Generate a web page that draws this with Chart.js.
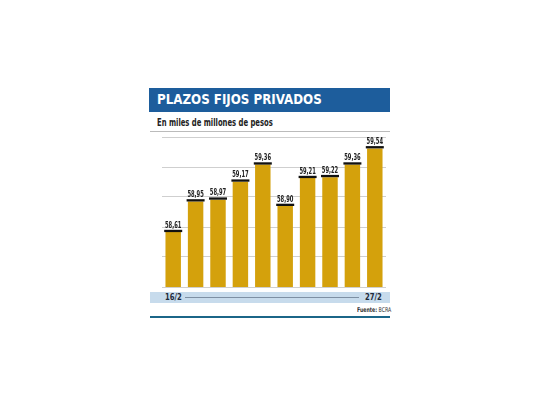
<!DOCTYPE html>
<html>
<head>
<meta charset="utf-8">
<script src="https://cdn.jsdelivr.net/npm/chart.js@4"></script>
<style>
  body { margin: 0; background: #fff; width: 540px; height: 405px; position: relative; overflow: hidden;
         font-family: 'DejaVu Sans Condensed', 'Liberation Sans', sans-serif; }
  .abs { position: absolute; }
  .narrow { display: inline-block; white-space: nowrap; transform-origin: left center; }
  #title { left: 149px; top: 88px; width: 241px; height: 24px; background: #1d5d9c; }
  #title span { position: absolute; left: 8px; top: 0; line-height: 23px; color: #fff; font-weight: bold;
                font-size: 14.5px; transform: scaleX(0.91); }
  #sub { left: 157px; top: 116px; font-size: 10px; font-weight: bold; color: #222; line-height: 14px;
         transform: scaleX(0.76); }
  #subline { left: 150px; top: 131px; width: 240px; height: 1px; background: #bbb; }
  #wrap { left: 150px; top: 125px; width: 240px; height: 170px; }
  #strip { left: 150px; top: 292px; width: 240px; height: 11px; background: #c7dbec; }
  #strip .lbl { position: absolute; top: 0; line-height: 11px; font-size: 9px; font-weight: bold; color: #1e2a3a; }
  #strip .ln { position: absolute; left: 35px; top: 5px; width: 174px; height: 1px; background: #7d8fa3; }
  #src { left: 357px; top: 306px; font-size: 6.5px; color: #333; line-height: 8px; transform: scaleX(0.8); }
  #bottom { left: 150px; top: 316px; width: 240px; height: 2px; background: #1b6688; }
</style>
</head>
<body>
<div id="title" class="abs"><span class="narrow">PLAZOS FIJOS PRIVADOS</span></div>
<div id="sub" class="abs narrow">En miles de millones de pesos</div>
<div id="subline" class="abs"></div>
<div id="wrap" class="abs"><canvas id="c"></canvas></div>
<div id="strip" class="abs">
  <span class="lbl narrow" id="first" style="left:15px; transform: scaleX(0.85)"></span>
  <div class="ln"></div>
  <span class="lbl narrow" id="last" style="left:215px; transform: scaleX(0.85)"></span>
</div>
<div id="src" class="abs narrow"><b>Fuente:</b> BCRA</div>
<div id="bottom" class="abs"></div>
<script>
// datos
const fechas = ['16/2', '17/2', '18/2', '19/2', '20/2', '23/2', '24/2', '25/2', '26/2', '27/2'];
const plazos = [58.61, 58.95, 58.97, 59.17, 59.36, 58.90, 59.21, 59.22, 59.36, 59.54];
const yMin = 58;
const yMax = 58 + 5 / 3;

document.getElementById('first').textContent = fechas[0];
document.getElementById('last').textContent = fechas[fechas.length - 1];

// etiqueta + raya negra arriba de cada barra
const valueLabels = {
    id: 'valueLabels',
    afterDatasetsDraw(chart) {
        const ctx = chart.ctx;
        const meta = chart.getDatasetMeta(0);
        meta.data.forEach((bar, i) => {
            ctx.save();
            ctx.fillStyle = '#111';
            ctx.fillRect(bar.x - 9, bar.y - 2.3, 18, 2.3);
            // texto angosto
            ctx.translate(bar.x, bar.y - 4.5);
            ctx.scale(0.68, 1);
            ctx.font = "bold 8.5px 'DejaVu Sans Condensed', sans-serif";
            ctx.textAlign = 'center';
            ctx.textBaseline = 'alphabetic';
            ctx.fillStyle = '#222';
            ctx.fillText(plazos[i].toFixed(2).replace('.', ','), 0, 0);
            ctx.restore();
        });
    }
};

new Chart(document.getElementById('c'), {
    type: 'bar',
    data: {
        labels: fechas,
        datasets: [{
            data: plazos,
            backgroundColor: '#d4a10c',
            borderWidth: 0,
            barPercentage: 0.69,
            categoryPercentage: 1
        }]
    },
    options: {
        responsive: true,
        maintainAspectRatio: false,
        animation: false,
        layout: { padding: { left: 12, right: 4, top: 12, bottom: 8 } },
        plugins: { legend: { display: false }, tooltip: { enabled: false } },
        scales: {
            x: { display: false },
            y: {
                min: yMin,
                max: yMax,
                ticks: { display: false, stepSize: 1 / 3 },
                grid: { color: '#cfcfcf', lineWidth: 1, drawTicks: false },
                border: { display: false }
            }
        }
    },
    plugins: [valueLabels]
});
</script>
</body>
</html>
